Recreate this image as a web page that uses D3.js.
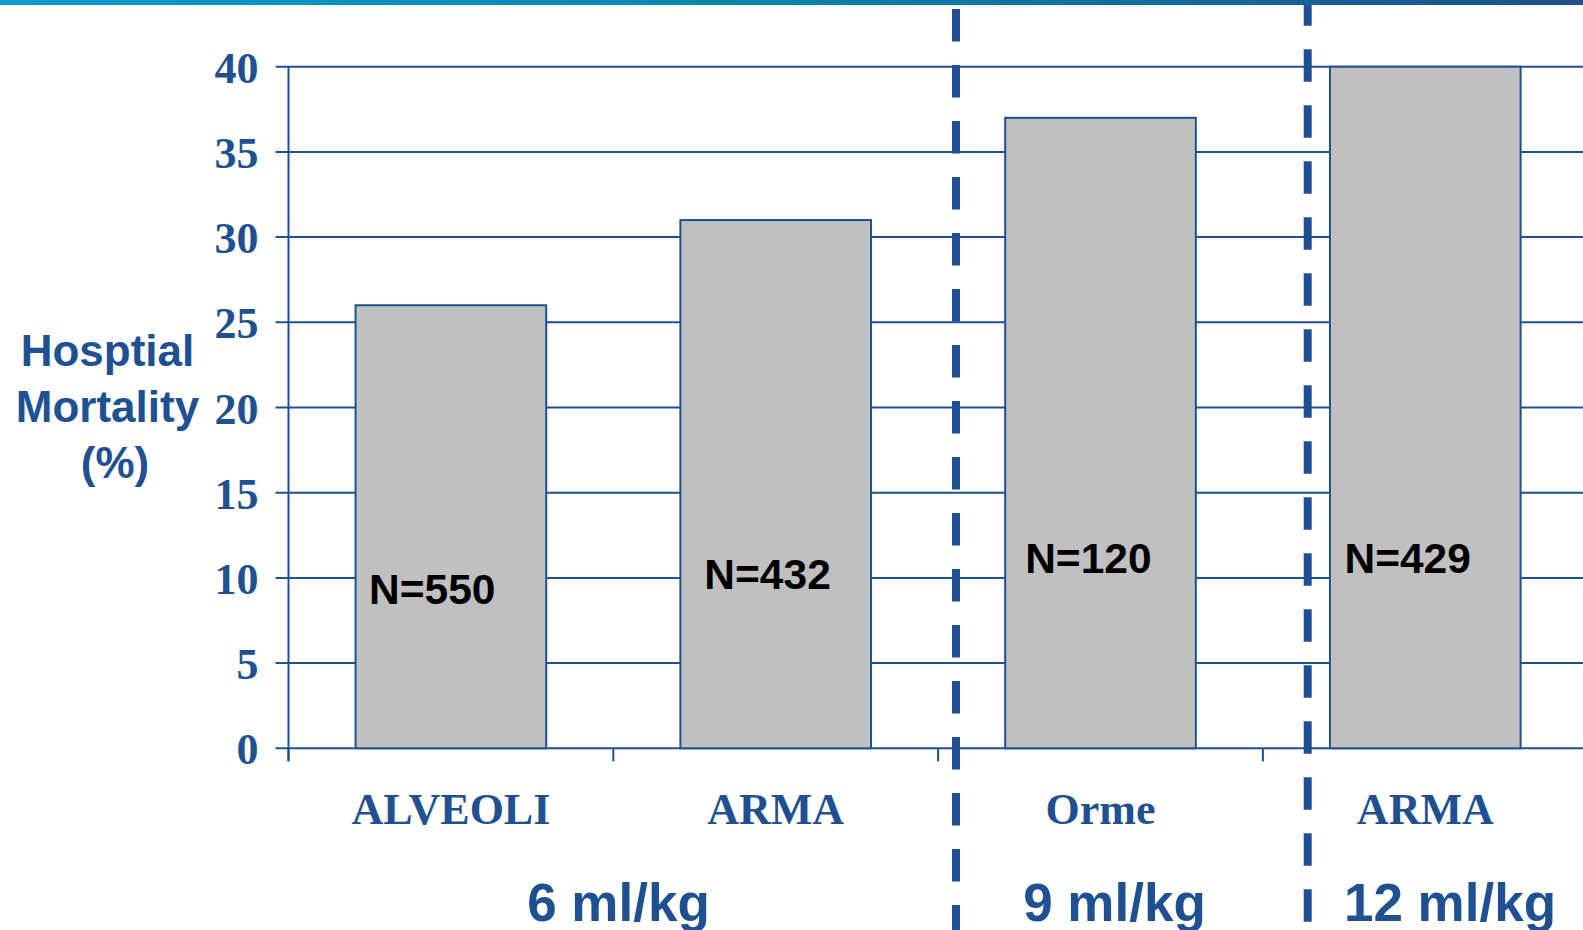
<!DOCTYPE html>
<html>
<head>
<meta charset="utf-8">
<script src="https://cdn.jsdelivr.net/npm/d3@7/dist/d3.min.js"></script>
<style>
  html, body { margin: 0; padding: 0; background: #ffffff; overflow: hidden; }
  svg { display: block; }
</style>
</head>
<body>
<svg id="chart" width="1583" height="930"></svg>
<script>
// Hospital mortality by tidal volume trial arm
const studies = ["ALVEOLI", "ARMA", "Orme", "ARMA"];
const mortality = [26, 31, 37, 40];
const sampleSizes = ["N=550", "N=432", "N=120", "N=429"];
const yTicks = [0, 5, 10, 15, 20, 25, 30, 35, 40];
const doseGroups = ["6 ml/kg", "9 ml/kg", "12 ml/kg"];
const yTitleLines = ["Hosptial", "Mortality", "(%)"];

// Layout
const W = 1583, H = 930;
const BLUE = "#1F5192";
const plotLeft = 288.5, plotTop = 66.7, plotBottom = 748.3, step = 324.8;
const nLabelInset = [13.5, 24, 20, 14.5];
const nLabelBaseline = [604, 588.6, 573.3, 572.5];
const groupLabelX = [618.5, 1114.5, 1450];
const yTitleX = [107.5, 107.5, 115];
const dividerX = [956, 1307.7];
const dividerStart = [9, -6.7];

const svg = d3.select("#chart");

const x = d3.scaleBand()
  .domain(studies.map((d, i) => i))
  .range([plotLeft, plotLeft + step * studies.length])
  .paddingInner(0.413)
  .paddingOuter(0.2065);

const y = d3.scaleLinear().domain([0, 40]).range([plotBottom, plotTop]);

// Horizontal gridlines with left tick marks
svg.append("g")
  .selectAll("line")
  .data(yTicks)
  .join("line")
  .attr("x1", plotLeft - 13)
  .attr("x2", W)
  .attr("y1", d => y(d))
  .attr("y2", d => y(d))
  .attr("stroke", BLUE)
  .attr("stroke-width", 2);

// Y tick labels
svg.append("g")
  .selectAll("text")
  .data(yTicks)
  .join("text")
  .attr("x", 258.5)
  .attr("y", d => y(d) + 16)
  .attr("text-anchor", "end")
  .attr("font-family", "'Liberation Serif', 'Times New Roman', serif")
  .attr("font-weight", "bold")
  .attr("font-size", 44)
  .attr("fill", BLUE)
  .text(d => d);

// Bars
svg.append("g")
  .selectAll("rect")
  .data(mortality)
  .join("rect")
  .attr("x", (d, i) => x(i))
  .attr("y", d => y(d))
  .attr("width", x.bandwidth())
  .attr("height", d => y(0) - y(d))
  .attr("fill", "#C0C0C0")
  .attr("stroke", BLUE)
  .attr("stroke-width", 2);

// Y axis line
svg.append("line")
  .attr("x1", plotLeft).attr("x2", plotLeft)
  .attr("y1", plotTop).attr("y2", plotBottom + 13)
  .attr("stroke", BLUE).attr("stroke-width", 2);

// Category tick marks on the baseline
svg.append("g")
  .selectAll("line")
  .data(d3.range(studies.length + 1))
  .join("line")
  .attr("x1", i => plotLeft + i * step)
  .attr("x2", i => plotLeft + i * step)
  .attr("y1", plotBottom)
  .attr("y2", plotBottom + 13)
  .attr("stroke", BLUE)
  .attr("stroke-width", 2);

// Sample size labels inside bars
svg.append("g")
  .selectAll("text")
  .data(sampleSizes)
  .join("text")
  .attr("x", (d, i) => x(i) + nLabelInset[i])
  .attr("y", (d, i) => nLabelBaseline[i])
  .attr("text-anchor", "start")
  .attr("font-family", "'Liberation Sans', Arial, sans-serif")
  .attr("font-weight", "bold")
  .attr("font-size", 42.5)
  .attr("fill", "#000000")
  .text(d => d);

// Study names under the axis
svg.append("g")
  .selectAll("text")
  .data(studies)
  .join("text")
  .attr("x", (d, i) => x(i) + x.bandwidth() / 2)
  .attr("y", 824)
  .attr("text-anchor", "middle")
  .attr("font-family", "'Liberation Serif', 'Times New Roman', serif")
  .attr("font-weight", "bold")
  .attr("font-size", 44)
  .attr("fill", BLUE)
  .text(d => d);

// Tidal volume group labels
svg.append("g")
  .selectAll("text")
  .data(doseGroups)
  .join("text")
  .attr("x", (d, i) => groupLabelX[i])
  .attr("y", 920.5)
  .attr("text-anchor", "middle")
  .attr("font-family", "'Liberation Sans', Arial, sans-serif")
  .attr("font-weight", "bold")
  .attr("font-size", 53)
  .attr("fill", BLUE)
  .text(d => d);

// Y axis title
svg.append("text")
  .attr("text-anchor", "middle")
  .attr("font-family", "'Liberation Sans', Arial, sans-serif")
  .attr("font-weight", "bold")
  .attr("font-size", 44)
  .attr("fill", BLUE)
  .selectAll("tspan")
  .data(yTitleLines)
  .join("tspan")
  .attr("x", (d, i) => yTitleX[i])
  .attr("y", (d, i) => 365.7 + i * 56)
  .text(d => d);

// Dashed dividers between tidal volume groups
svg.append("g")
  .selectAll("line")
  .data(dividerX)
  .join("line")
  .attr("x1", d => d).attr("x2", d => d)
  .attr("y1", (d, i) => dividerStart[i])
  .attr("y2", H)
  .attr("stroke", BLUE)
  .attr("stroke-width", 8)
  .attr("stroke-dasharray", "32.5 23.5");

// Top accent band
const defs = svg.append("defs");
const grad = defs.append("linearGradient").attr("id", "topband")
  .attr("x1", "0%").attr("x2", "100%").attr("y1", "0%").attr("y2", "0%");
grad.append("stop").attr("offset", "0%").attr("stop-color", "#0A9CCC");
grad.append("stop").attr("offset", "50%").attr("stop-color", "#0A82AE");
grad.append("stop").attr("offset", "100%").attr("stop-color", "#1E4F8F");
svg.append("rect")
  .attr("x", 0).attr("y", 0)
  .attr("width", W).attr("height", 5)
  .attr("fill", "url(#topband)");
</script>
</body>
</html>
